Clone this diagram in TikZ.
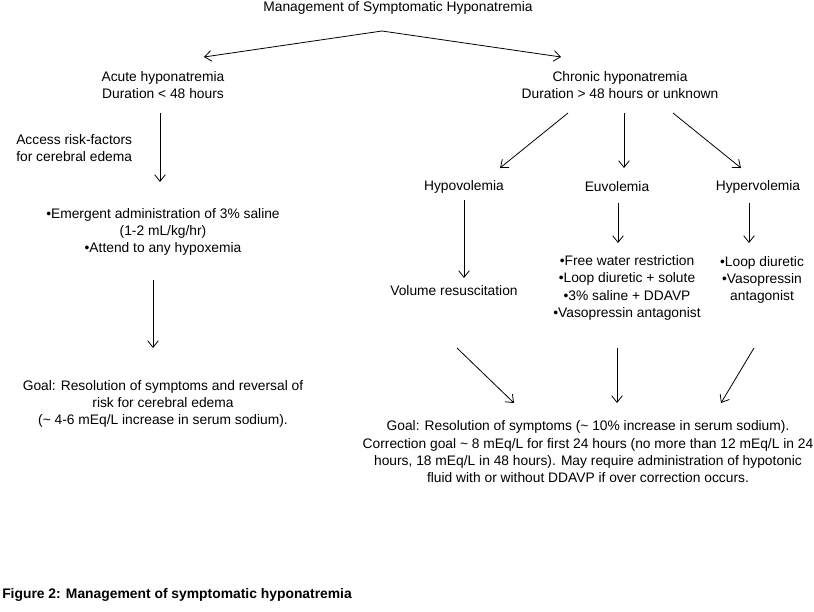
\documentclass[tikz,border=0pt]{standalone}
\usepackage{fontspec}
\setmainfont{Liberation Sans}
\usetikzlibrary{arrows.meta}
\begin{document}
\begin{tikzpicture}[x=0.75pt,y=-0.75pt,
  txt/.style={inner sep=0pt,align=center,font=\fontsize{10.35}{13}\selectfont},
  arr/.style={draw,line width=0.6pt,-{Straight Barb[length=5pt,width=8pt,line width=0.6pt]}}]
\useasboundingbox[fill=white] (0,0) rectangle (814,611);
\node[txt] (title) at (398,8) {Management of Symptomatic Hyponatremia};
\coordinate (apex) at (382,31);
\node[txt] (acute) at (163,85) {Acute hyponatremia\\Duration < 48 hours};
\node[txt] (chronic) at (620,85) {Chronic hyponatremia\\Duration > 48 hours or unknown};
\draw[arr] (apex) -- (204,57);
\draw[arr] (apex) -- (561,57);
\node[txt,align=left,anchor=west] (risk) at (16,148) {Access risk-factors\\for cerebral edema};
\draw[arr] (160,113) -- (160,182);
\node[txt] (emerg) at (163,232) {•Emergent administration of 3\% saline\\(1-2 mL/kg/hr)\\•Attend to any hypoxemia};
\draw[arr] (153,280) -- (153,348);
\node[txt] (goalA) at (163,404) {Goal: Resolution of symptoms and reversal of\\risk for cerebral edema\\(\textasciitilde{} 4-6 mEq/L increase in serum sodium).};
\node[txt] (hypo) at (464,187) {Hypovolemia};
\node[txt] (euvo) at (617,187) {Euvolemia};
\node[txt] (hyper) at (758,187) {Hypervolemia};
\draw[arr] (568,113) -- (500,168);
\draw[arr] (624,113) -- (624,168);
\draw[arr] (673,113) -- (741,168);
\draw[arr] (464,200) -- (464,278);
\draw[arr] (618,203) -- (618,243);
\draw[arr] (749,203) -- (749,243);
\node[txt] (vol) at (454,291) {Volume resuscitation};
\node[txt] (euvolist) at (627,288) {•Free water restriction\\•Loop diuretic + solute\\•3\% saline + DDAVP\\•Vasopressin antagonist};
\node[txt] (hyperlist) at (762,280) {•Loop diuretic\\•Vasopressin\\antagonist};
\draw[arr] (457,348) -- (514,403);
\draw[arr] (617,348) -- (617,403);
\draw[arr] (754,348) -- (721,403);
\node[txt] (goalC) at (588,452) {Goal: Resolution of symptoms (\textasciitilde{} 10\% increase in serum sodium).\\Correction goal \textasciitilde{} 8 mEq/L for first 24 hours (no more than 12 mEq/L in 24\\hours, 18 mEq/L in 48 hours). May require administration of hypotonic\\fluid with or without DDAVP if over correction occurs.};
\node[inner sep=0pt,anchor=west,font=\fontsize{10.4}{12}\selectfont\bfseries] (cap) at (2,595) {Figure 2: Management of symptomatic hyponatremia};
\end{tikzpicture}
\end{document}
